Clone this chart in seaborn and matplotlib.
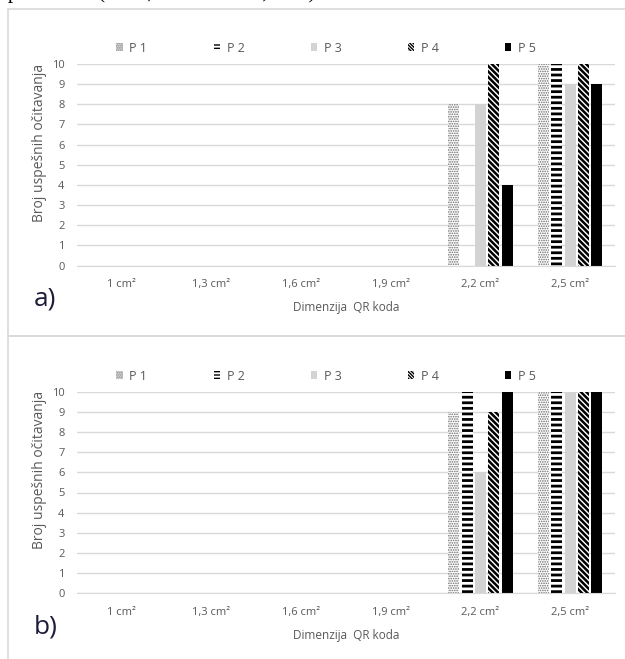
import numpy as np
import pandas as pd
import matplotlib
matplotlib.use('Agg')
import matplotlib.pyplot as plt
from matplotlib.patches import Patch, Rectangle
import seaborn as sns

# Kategorije i vrijednosti (citano sa slike)
kategorije = ['1 cm²', '1,3 cm²', '1,6 cm²', '1,9 cm²', '2,2 cm²', '2,5 cm²']
serije = ['P 1', 'P 2', 'P 3', 'P 4', 'P 5']

a_p1 = [0, 0, 0, 0, 8, 10]
a_p2 = [0, 0, 0, 0, 0, 10]
a_p3 = [0, 0, 0, 0, 8, 9]
a_p4 = [0, 0, 0, 0, 10, 10]
a_p5 = [0, 0, 0, 0, 4, 9]

b_p1 = [0, 0, 0, 0, 9, 10]
b_p2 = [0, 0, 0, 0, 10, 10]
b_p3 = [0, 0, 0, 0, 6, 10]
b_p4 = [0, 0, 0, 0, 9, 10]
b_p5 = [0, 0, 0, 0, 10, 10]

sns.set_style('white')
plt.rcParams['font.family'] = ['Open Sans', 'DejaVu Sans']

gray_txt = '#595959'
grid_c = '#d9d9d9'

# stil svake serije: (boja, srafura, boja srafure, debljina srafure, srafura u legendi)
stilovi = {
    'P 1': ('white', '.......', '#6a6a6a', 0.8, '........'),
    'P 2': ('white', '---', 'black', 2.0, '-----'),
    'P 3': ('#d3d3d3', None, '#d3d3d3', 1.0, None),
    'P 4': ('white', '\\\\\\\\\\\\', 'black', 1.8, '\\\\\\\\\\\\\\\\\\\\'),
    'P 5': ('black', None, 'black', 1.0, None),
}
W, H = 625, 659


def long_df(vals):
    rows = []
    for s, v in zip(serije, vals):
        for k, y in zip(kategorije, v):
            rows.append({'kat': k, 'serija': s, 'n': y})
    return pd.DataFrame(rows)


def panel(fig, rect, vals, frame):
    fig.patches.append(Rectangle(frame[0], frame[1], frame[2], transform=fig.transFigure,
                                 fill=False, edgecolor=grid_c, linewidth=1.2, zorder=0))
    ax = fig.add_axes(rect)
    df = long_df(vals)
    sns.barplot(data=df, x='kat', y='n', hue='serija', order=kategorije, hue_order=serije,
                width=0.74, gap=0.17, legend=False, ax=ax, saturation=1)
    for cont, s in zip(ax.containers, serije):
        fc, h, hc, lw, _ = stilovi[s]
        for bar in cont:
            bar.set_facecolor(fc)
            bar.set_edgecolor(hc)
            bar.set_linewidth(0)
            if h:
                bar.set_hatch(h)
                if hasattr(bar, 'set_hatch_linewidth'):
                    bar.set_hatch_linewidth(lw)
    ax.set_ylim(0, 10)
    ax.set_xlim(-0.5, 5.5)
    ax.set_yticks(range(0, 11))
    ax.yaxis.grid(True, color=grid_c, linewidth=1)
    ax.set_axisbelow(True)
    for sp in ['top', 'right', 'left']:
        ax.spines[sp].set_visible(False)
    ax.spines['bottom'].set_color(grid_c)
    ax.set_xticks(np.arange(-0.5, 6, 1), minor=True)
    ax.tick_params(axis='x', which='minor', length=5, color=grid_c, direction='out')
    ax.tick_params(axis='x', which='major', length=0, pad=10, labelsize=8, labelcolor=gray_txt)
    ax.tick_params(axis='y', length=0, pad=9, labelsize=8, labelcolor=gray_txt)
    ax.set_xlabel('Dimenzija  QR koda', fontsize=8.5, color=gray_txt, labelpad=8)
    ax.set_ylabel('Broj uspešnih očitavanja', fontsize=10, color=gray_txt)
    ax.yaxis.set_label_coords(-30 / 538, 0.61)
    return ax


fig = plt.figure(figsize=(6.25, 6.59), dpi=100)

# naslov (odsjecen na vrhu)
fig.text(8 / W, 1 + 2 / H, 'primerana (P 1 0,6 cm i P 1 00,6 cm).', fontsize=15,
         family='Liberation Serif', va='baseline', ha='left', color='black')

ax_a = panel(fig, [77 / W, 1 - 265.5 / H, 538 / W, 201.5 / H],
             [a_p1, a_p2, a_p3, a_p4, a_p5],
             ((8 / W, 1 - 336 / H), 630 / W, 327 / H))
ax_b = panel(fig, [77 / W, 1 - 593 / H, 538 / W, 201 / H],
             [b_p1, b_p2, b_p3, b_p4, b_p5],
             ((8 / W, 1 - 665 / H), 630 / W, 329 / H))

fig.text(34 / W, 1 - 299 / H, 'a)', fontsize=19, color='#1c1c3a', va='center')
fig.text(34 / W, 1 - 627 / H, 'b)', fontsize=19, color='#1c1c3a', va='center')

handles = []
for s in serije:
    fc, h, hc, lw, hl = stilovi[s]
    handles.append(Patch(facecolor=fc, edgecolor=hc, hatch=hl, linewidth=0, label=s))

for ly in (48, 376):
    fig.legend(handles=handles, ncol=5, loc='center left',
               bbox_to_anchor=(105 / W, 1 - ly / H), frameon=False, fontsize=9,
               handlelength=0.5, handleheight=0.6, handletextpad=0.55,
               columnspacing=5.3, labelcolor=gray_txt)

fig.savefig('out.png', dpi=100)
